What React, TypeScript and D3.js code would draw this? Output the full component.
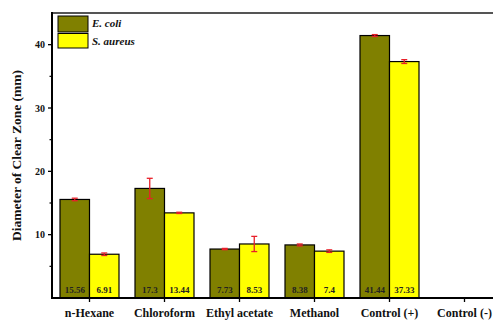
import React from 'react';
import {scaleLinear, scaleBand} from 'd3';

const categories = ['n-Hexane', 'Chloroform', 'Ethyl acetate', 'Methanol', 'Control (+)', 'Control (-)'];
const ecoli = [15.56, 17.3, 7.73, 8.38, 41.44, 0];
const saureus = [6.91, 13.44, 8.53, 7.4, 37.33, 0];
const ecoliErr = [0.2, 1.6, 0.1, 0.15, 0.15, 0];
const saureusErr = [0.2, 0.1, 1.2, 0.2, 0.3, 0];
const ecoliLabels = ['15.56', '17.3', '7.73', '8.38', '41.44', ''];
const saureusLabels = ['6.91', '13.44', '8.53', '7.4', '37.33', ''];
const yTicks = [10, 20, 30, 40];
const yMinor = [5, 15, 25, 35];

const OLIVE = '#808000';
const YELLOW = '#ffff00';
const SERIF = '"Liberation Serif", "DejaVu Serif", serif';

export default function App() {
    const width = 493;
    const height = 320;
    const left = 52;
    const right = 502;
    const top = 13;
    const bottom = 298;

    const x = scaleBand().domain(categories).range([left, right]).paddingInner(0).paddingOuter(0);
    const y = scaleLinear().domain([0, 45]).range([bottom, top]);
    const barW = 29.5;

    const series = [
        {vals: ecoli, errs: ecoliErr, labels: ecoliLabels, color: OLIVE, off: -barW},
        {vals: saureus, errs: saureusErr, labels: saureusLabels, color: YELLOW, off: 0},
    ];

    return (
        <svg width={width} height={height} style={{position: 'absolute', left: 0, top: 0}}>
            <rect width={width} height={height} fill="#fff" />
            {/* bars */}
            {series.map((s, si) =>
                categories.map((c, i) => {
                    if (s.vals[i] <= 0) return null;
                    const cx = x(c)! + x.bandwidth() / 2;
                    const bx = cx + s.off;
                    return (
                        <g key={`${si}-${i}`}>
                            <rect x={bx} y={y(s.vals[i])} width={barW} height={bottom - y(s.vals[i])}
                                  fill={s.color} stroke="#000" strokeWidth={1.2} />
                            <text x={bx + barW / 2} y={293} textAnchor="middle" fontFamily={SERIF}
                                  fontWeight="bold" fontSize={9} fill="#222">{s.labels[i]}</text>
                        </g>
                    );
                })
            )}
            {/* error bars */}
            {series.map((s, si) =>
                categories.map((c, i) => {
                    if (s.vals[i] <= 0) return null;
                    const cx = x(c)! + x.bandwidth() / 2 + s.off + barW / 2;
                    const y1 = y(s.vals[i] + s.errs[i]);
                    const y2 = y(s.vals[i] - s.errs[i]);
                    return (
                        <g key={`e${si}-${i}`} stroke="#e8202a" strokeWidth={1.3}>
                            <line x1={cx} x2={cx} y1={y1} y2={y2} />
                            <line x1={cx - 3} x2={cx + 3} y1={y1} y2={y1} />
                            <line x1={cx - 3} x2={cx + 3} y1={y2} y2={y2} />
                        </g>
                    );
                })
            )}
            {/* frame */}
            <line x1={left} x2={width} y1={top} y2={top} stroke="#555" strokeWidth={2} />
            <line x1={left} x2={left} y1={top - 1} y2={bottom + 1} stroke="#000" strokeWidth={2} />
            <line x1={left} x2={width} y1={bottom} y2={bottom} stroke="#000" strokeWidth={2} />
            {/* y ticks */}
            {yTicks.map(t => (
                <g key={t}>
                    <line x1={left - 4} x2={left} y1={y(t)} y2={y(t)} stroke="#000" strokeWidth={1.3} />
                    <text x={left - 7} y={y(t) + 3.5} textAnchor="end" fontFamily={SERIF} fontWeight="bold"
                          fontSize={10} fill="#111">{t}</text>
                </g>
            ))}
            {yMinor.map(t => (
                <line key={t} x1={left - 2.5} x2={left} y1={y(t)} y2={y(t)} stroke="#000" strokeWidth={1.2} />
            ))}
            {/* x ticks and labels */}
            {categories.map(c => {
                const cx = x(c)! + x.bandwidth() / 2;
                return (
                    <g key={c}>
                        <line x1={cx} x2={cx} y1={bottom} y2={bottom + 4} stroke="#000" strokeWidth={1.3} />
                        <text x={cx} y={317} textAnchor="middle" fontFamily={SERIF} fontWeight="bold"
                              fontSize={12} fill="#111">{c}</text>
                    </g>
                );
            })}
            {/* y label */}
            <text transform={`translate(21,${(top + bottom) / 2}) rotate(-90)`} textAnchor="middle"
                  fontFamily={SERIF} fontWeight="bold" fontSize={13.5} fill="#111">
                Diameter of Clear Zone (mm)
            </text>
            {/* legend */}
            <rect x={58} y={16} width={30} height={16} fill={OLIVE} stroke="#000" strokeWidth={1} />
            <rect x={58} y={33.5} width={30} height={14.5} fill={YELLOW} stroke="#000" strokeWidth={1} />
            <text x={92} y={27} fontFamily={SERIF} fontWeight="bold" fontStyle="italic" fontSize={11}
                  fill="#111">E. coli</text>
            <text x={92} y={45} fontFamily={SERIF} fontWeight="bold" fontStyle="italic" fontSize={11}
                  fill="#111">S. aureus</text>
        </svg>
    );
}
